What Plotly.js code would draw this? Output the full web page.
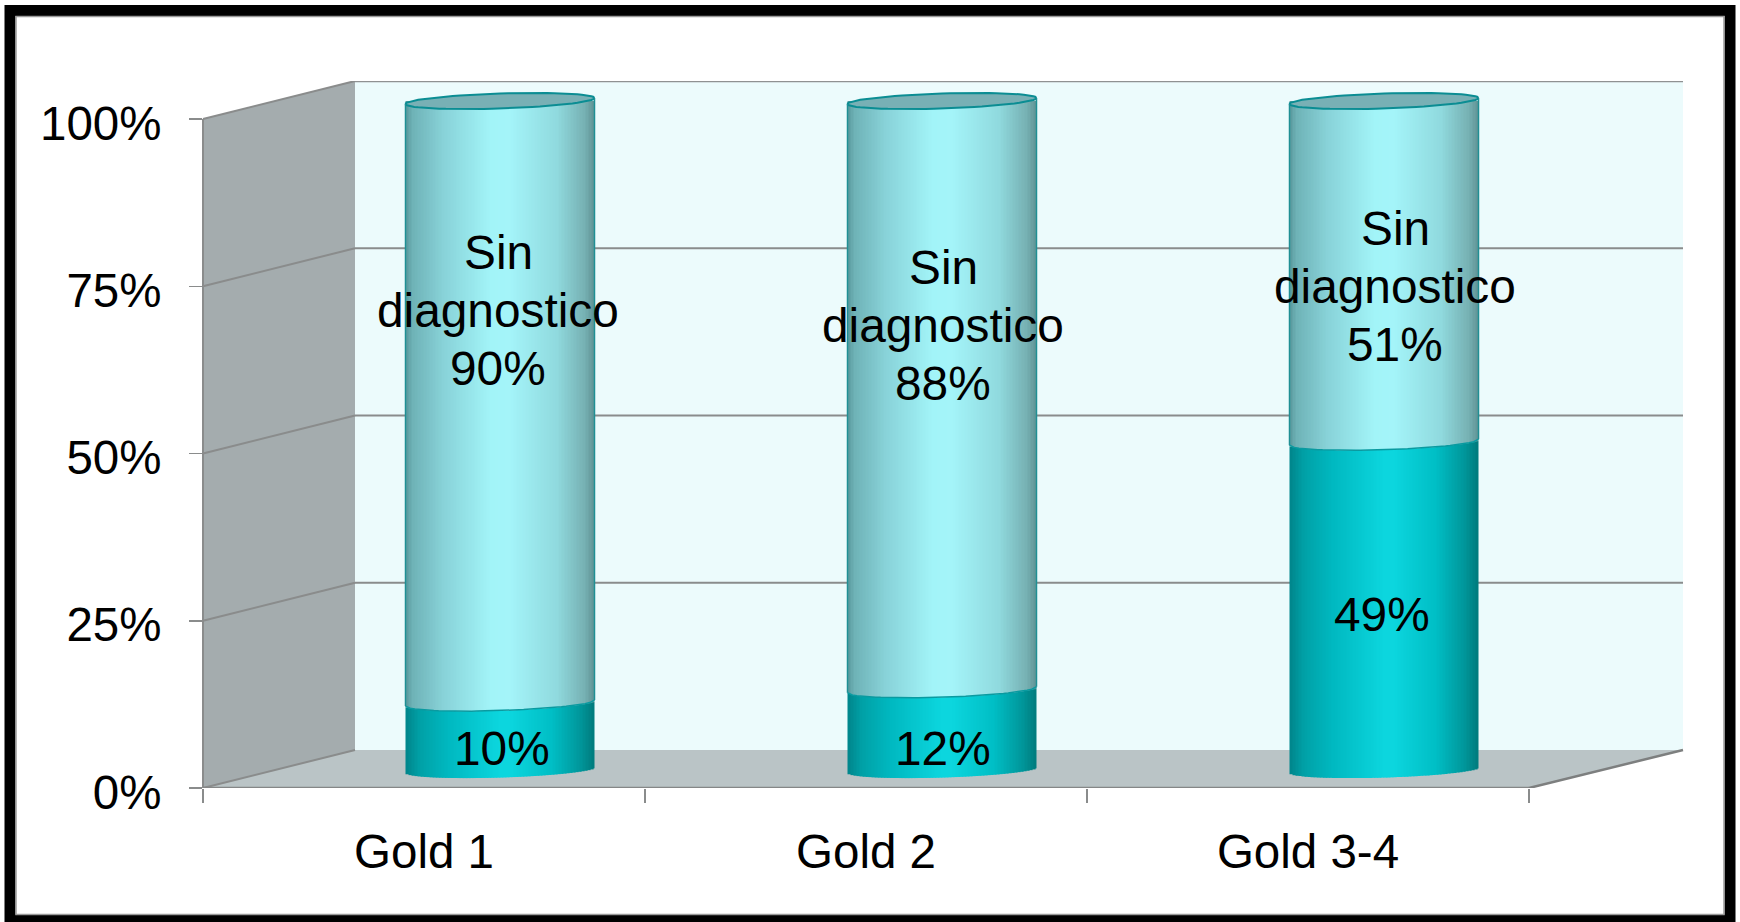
<!DOCTYPE html>
<html>
<head>
<meta charset="utf-8">
<script src="https://cdn.plot.ly/plotly-3.0.1.min.js"></script>
<style>html,body{margin:0;padding:0;background:#fff}#chart{width:1740px;height:922px}</style>
</head>
<body>
<div id="chart"></div>
<script>
// ---- data ----
const categories = ['Gold 1', 'Gold 2', 'Gold 3-4'];
const conDiagnostico = [10, 12, 49];
const sinDiagnostico = [90, 88, 51];
const yTicks = [0, 25, 50, 75, 100];

// ---- layout constants (pixels of the frame) ----
const W = 1740, H = 922;
const L = 203, R = 1683, T = 81, B = 788;
const plotW = R - L, plotH = B - T;
const pxPerUnit = 6.69;
const bandPx = 442;
const depthX = 152, depthY = 38;
const yMax = plotH / pxPerUnit;
const depthV = depthY / pxPerUnit;
const xMax = plotW / bandPx - 0.5;
const frontRight = 3 * bandPx / plotW;
const backLeft = depthX / plotW;
const backRight = 1;

// cylinder geometry
const barW = 189 / bandPx, barShift = 76 / bandPx, barLift = 18 / pxPerUnit;
const ellB = 7.5 / pxPerUnit, ellTilt = 3 / pxPerUnit;
const STRIPS = 63;

const upperStops = [[-1,[88,150,154]],[-0.93,[110,178,182]],[-0.6,[136,210,216]],[-0.1,[162,244,248]],[0.1,[164,244,249]],[0.6,[144,218,222]],[0.9,[118,176,178]],[1,[96,146,148]]];
const lowerStops = [[-1,[0,132,138]],[-0.85,[0,160,166]],[-0.55,[0,184,192]],[0,[12,214,222]],[0.1,[12,214,222]],[0.55,[0,190,197]],[0.85,[0,150,154]],[1,[0,122,124]]];
function grad(stops, t) {
  for (let i = 1; i < stops.length; i++) {
    if (t <= stops[i][0]) {
      const a = stops[i-1], b = stops[i], f = (t - a[0]) / (b[0] - a[0]);
      const c = a[1].map((v, k) => Math.round(v + (b[1][k] - v) * f));
      return 'rgb(' + c.join(',') + ')';
    }
  }
  return 'rgb(' + stops[stops.length-1][1].join(',') + ')';
}
const arc = t => -ellB * Math.sqrt(Math.max(0, 1 - t * t)) + ellTilt * t;

// ---- cylinders as strips of stacked bars ----
const low = {x:[], y:[], base:[], width:[], offset:[], color:[]};
const up  = {x:[], y:[], base:[], width:[], offset:[], color:[]};
categories.forEach((c, i) => {
  for (let s = 0; s < STRIPS; s++) {
    const t = (s + 0.5) / STRIPS * 2 - 1;
    const a = arc(t);
    const off = barShift - barW / 2 + s * barW / STRIPS;
    // each strip runs a little under the next one, so no seam can show between them
    const wid = (s === STRIPS - 1 ? 1 : 1.7) * barW / STRIPS;
    low.x.push(c); low.base.push(barLift + a); low.y.push(conDiagnostico[i]);
    low.width.push(wid); low.offset.push(off); low.color.push(grad(lowerStops, t));
    up.x.push(c); up.base.push(barLift + conDiagnostico[i] + a); up.y.push(sinDiagnostico[i] - a);
    up.width.push(wid); up.offset.push(off); up.color.push(grad(upperStops, t));
  }
});
const barTrace = (d, name) => ({type:'bar', name, x:d.x, y:d.y, base:d.base, width:d.width, offset:d.offset,
  marker:{color:d.color, line:{width:0}}, hoverinfo:'skip', showlegend:false});

// ---- caps and rims, on an overlaid numeric copy of the x axis ----
const capTraces = [], rimTraces = [];
categories.forEach((c, i) => {
  const cx = i + barShift, rx = barW / 2;
  const topV = barLift + conDiagnostico[i] + sinDiagnostico[i];
  const xs = [], ys = [];
  for (let k = 0; k <= 72; k++) {
    const th = k / 72 * 2 * Math.PI, t = Math.cos(th);
    xs.push(cx + rx * t);
    ys.push(topV + ellB * Math.sin(th) + ellTilt * t);
  }
  capTraces.push({type:'scatter', mode:'lines', xaxis:'x2', x:xs, y:ys, fill:'toself', fillcolor:'#78b0b5',
    line:{color:'#0b8d93', width:2}, hoverinfo:'skip', showlegend:false});
  const bx = [], by = [];
  for (let k = 0; k <= 40; k++) {
    const t = k / 40 * 2 - 1;
    bx.push(cx + rx * t);
    by.push(barLift + conDiagnostico[i] + arc(t));
  }
  rimTraces.push({type:'scatter', mode:'lines', xaxis:'x2', x:bx, y:by, line:{color:'#0a9aa0', width:1.5}, hoverinfo:'skip', showlegend:false});
  [-1, 1].forEach(sd => {
    rimTraces.push({type:'scatter', mode:'lines', xaxis:'x2',
      x:[cx + rx * sd, cx + rx * sd],
      y:[barLift + conDiagnostico[i] + ellTilt * sd, topV + ellTilt * sd],
      line:{color:'#1f8f94', width:1.5}, hoverinfo:'skip', showlegend:false});
  });
});

// ---- walls, floor, grid ----
const poly = (pts, fill) => ({type:'path', layer:'below', xref:'paper', yref:'y',
  path:'M' + pts.map(p => p[0] + ',' + p[1]).join(' L') + ' Z', fillcolor:fill, line:{width:0}});
const seg = (x0, y0, x1, y1, color, width) => ({type:'line', layer:'below', xref:'paper', yref:'y',
  x0, y0, x1, y1, line:{color: color || '#8a8c8c', width: width || 2}});
const shapes = [
  poly([[backLeft,depthV],[backRight,depthV],[backRight,100+depthV],[backLeft,100+depthV]], '#ecfbfc'),
  poly([[0,0],[backLeft,depthV],[backLeft,100+depthV],[0,100]], '#a4acae'),
  poly([[0,0],[frontRight,0],[backRight,depthV],[backLeft,depthV]], '#bac4c6'),
  seg(0, 0, 0, 100)
];
yTicks.forEach(v => {
  shapes.push(seg(0, v, backLeft, v + depthV));
  if (v > 0) shapes.push(seg(backLeft, v + depthV, backRight, v + depthV, v === 100 ? '#8f9192' : '#8a8c8c', v === 100 ? 2.5 : 2));
});
shapes.push(seg(0, 0, frontRight, 0, '#858787', 2.5));
shapes.push(seg(frontRight, 0, backRight, depthV, '#7d7f7f', 2.5));

// frame
const pxX = p => (p - L) / plotW, pxY = p => (B - p) / plotH;
shapes.push({type:'rect', xref:'paper', yref:'paper', layer:'above',
  x0:pxX(10), x1:pxX(1730), y0:pxY(10.5), y1:pxY(920), fillcolor:'rgba(0,0,0,0)', line:{color:'#000', width:11}});
shapes.push({type:'rect', xref:'paper', yref:'paper', layer:'above',
  x0:pxX(16), x1:pxX(1724), y0:pxY(16.5), y1:pxY(914.5), fillcolor:'rgba(0,0,0,0)', line:{color:'#9a9a9a', width:1.5}});

// ---- labels on the cylinders ----
const FONT = 'Liberation Sans, Arial, sans-serif';
const LABEL_SIZE = 47.8, LINE_PITCH = 58;
const upperLabelCentre = [[498, 310], [943, 325], [1395, 286]];
const lowerLabelCentre = [[502, 748], [943, 748], [1382, 614]];
const annX = p => (p - L) / bandPx - 0.5, annY = p => (B - p) / pxPerUnit;
const annotations = [];
const label = (px, py, text) => annotations.push({xref:'x', yref:'y', x:annX(px), y:annY(py), text, showarrow:false,
  xanchor:'center', yanchor:'middle', font:{family:FONT, size:LABEL_SIZE, color:'#000'}});
categories.forEach((c, i) => {
  const [ux, uy] = upperLabelCentre[i];
  ['Sin', 'diagnostico', sinDiagnostico[i] + '%'].forEach((t, k) => label(ux, uy + (k - 1) * LINE_PITCH, t));
  label(lowerLabelCentre[i][0], lowerLabelCentre[i][1], conDiagnostico[i] + '%');
});

const layout = {
  width:W, height:H, margin:{l:L, r:W-R, t:T, b:H-B, pad:0},
  paper_bgcolor:'#fff', plot_bgcolor:'rgba(0,0,0,0)', showlegend:false, barmode:'overlay', hovermode:false,
  xaxis:{type:'category', categoryorder:'array', categoryarray:categories, range:[-0.5, xMax], tickson:'boundaries',
    ticks:'outside', ticklen:14, tickwidth:1.5, tickcolor:'#8a8c8c', showgrid:false, zeroline:false, showline:false,
    ticklabelstandoff:31, tickfont:{family:FONT, size:47.5, color:'#000'}, automargin:false},
  xaxis2:{overlaying:'x', range:[-0.5, xMax], visible:false, fixedrange:true},
  yaxis:{range:[0, yMax], tickmode:'array', tickvals:yTicks, ticktext:yTicks.map(v => v + '%'),
    ticks:'outside', ticklen:13, tickwidth:1.5, tickcolor:'#8a8c8c', showgrid:false, zeroline:false, showline:false,
    ticklabelstandoff:18, ticklabelshift:4, tickfont:{family:FONT, size:47.5, color:'#000'}, automargin:false},
  shapes, annotations
};
Plotly.newPlot('chart', [barTrace(low,'Con diagnostico'), barTrace(up,'Sin diagnostico')].concat(capTraces, rimTraces), layout,
  {displayModeBar:false, staticPlot:true});
</script>
</body>
</html>
